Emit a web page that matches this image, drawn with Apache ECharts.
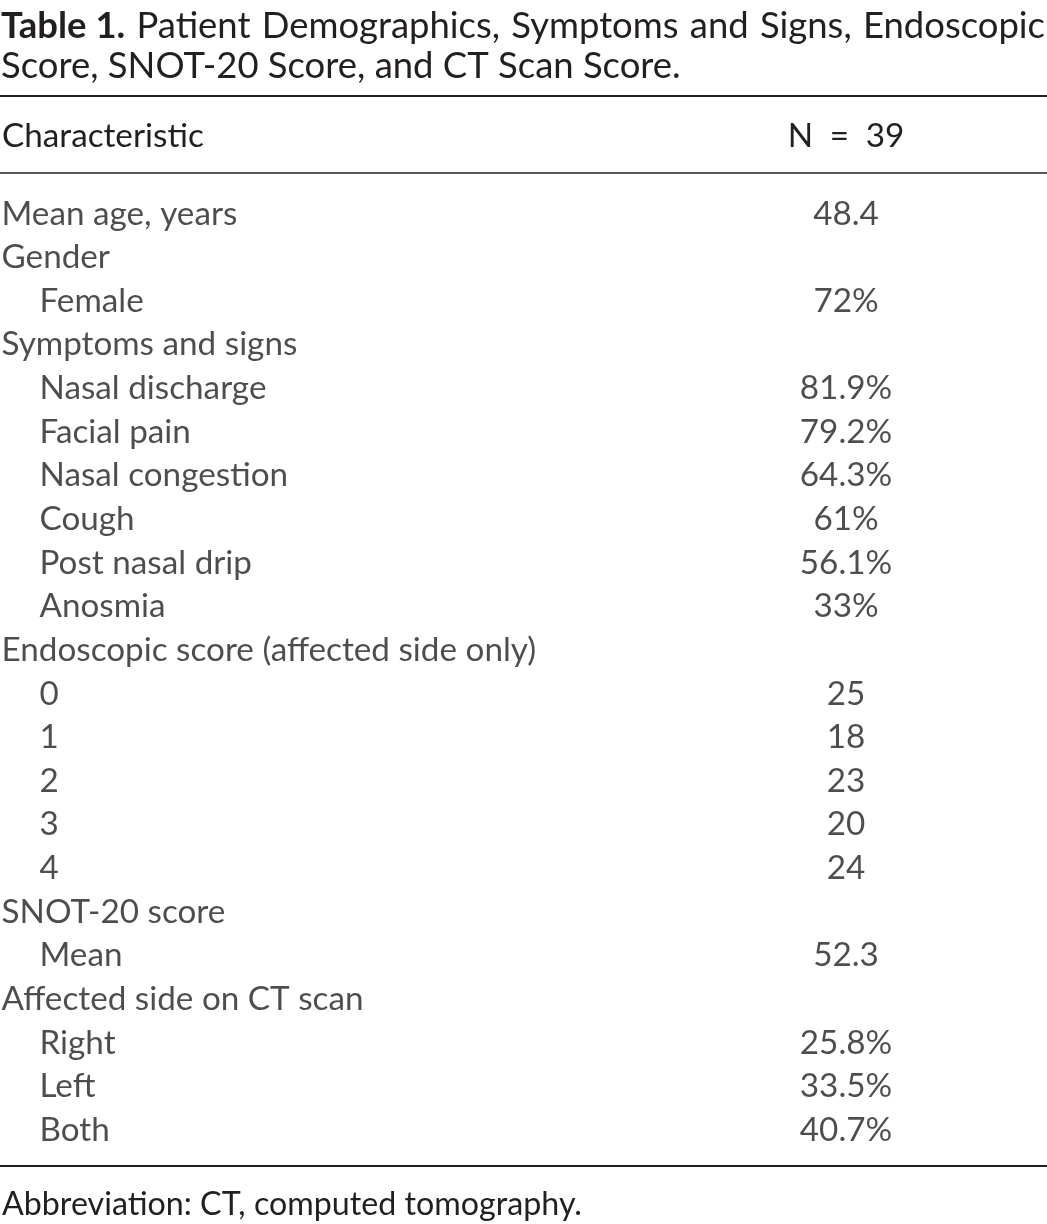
<!DOCTYPE html>
<html><head><meta charset="utf-8">
<script src="https://cdn.jsdelivr.net/npm/echarts/dist/echarts.min.js"></script>
<style>html,body{margin:0;padding:0;background:#fff}#c{width:1047px;height:1224px}</style>
</head><body><div id="c"></div>
<script>
// ---- data ----
const titleBold = 'Table 1.';
const titleLine1 = ['Patient', 'Demographics,', 'Symptoms', 'and', 'Signs,', 'Endoscopic'];
const titleLine2 = 'Score, SNOT-20 Score, and CT Scan Score.';
const headers = ['Characteristic', 'N = 39'];
const rowLabels = [
  'Mean age, years', 'Gender', 'Female', 'Symptoms and signs', 'Nasal discharge',
  'Facial pain', 'Nasal congestion', 'Cough', 'Post nasal drip', 'Anosmia',
  'Endoscopic score (affected side only)', '0', '1', '2', '3', '4',
  'SNOT-20 score', 'Mean', 'Affected side on CT scan', 'Right', 'Left', 'Both'
];
const rowLevels = [0, 0, 1, 0, 1, 1, 1, 1, 1, 1, 0, 1, 1, 1, 1, 1, 0, 1, 0, 1, 1, 1];
const rowValues = [
  '48.4', '', '72%', '', '81.9%', '79.2%', '64.3%', '61%', '56.1%', '33%',
  '', '25', '18', '23', '20', '24', '', '52.3', '', '25.8%', '33.5%', '40.7%'
];
const footnote = 'Abbreviation: CT, computed tomography.';

// ---- style ----
const FONT = 'Lato';
const INK = '#231f20';
const W = 1047;
const cv = document.createElement('canvas').getContext('2d');
function measure(text, size, weight) {
  cv.font = (weight || 'normal') + ' ' + size + 'px ' + FONT;
  return cv.measureText(text).width;
}
function fit(text, target, weight) {
  return 28 * target / measure(text, 28, weight);
}
const bodySize = fit('Symptoms and signs', 296);
const titleSize = fit(titleLine2, 680);
const footSize = fit(footnote, 580);

// justified first title line
const words = [{t: titleBold, w: 'bold'}].concat(titleLine1.map(t => ({t: t, w: 'normal'})));
const widths = words.map(o => measure(o.t, titleSize, o.w));
const gap = (W - 2 - 1 - widths.reduce((a, b) => a + b, 0)) / (words.length - 1);
const graphics = [];
let x = 1;
words.forEach((o, i) => {
  graphics.push({type: 'text', x: x, y: 26, silent: true,
    style: {text: o.t, font: o.w + ' ' + titleSize + 'px ' + FONT, fill: INK, textVerticalAlign: 'middle'}});
  x += widths[i] + gap;
});
graphics.push({type: 'text', x: 1, y: 66, silent: true,
  style: {text: titleLine2, font: 'normal ' + titleSize + 'px ' + FONT, fill: INK, textVerticalAlign: 'middle'}});
[[96, 2], [173, 1.6], [1166, 2]].forEach(r => graphics.push({type: 'line', silent: true,
  shape: {x1: 0, y1: r[0], x2: W, y2: r[0]}, style: {stroke: INK, lineWidth: r[1]}}));
graphics.push({type: 'text', x: 2, y: 136, silent: true,
  style: {text: headers[0], font: 'normal ' + bodySize + 'px ' + FONT, fill: INK, textVerticalAlign: 'middle'}});
graphics.push({type: 'text', x: 846, y: 136, silent: true,
  style: {text: headers[1].replace(/ /g, '\u2002'), font: 'normal ' + bodySize + 'px ' + FONT, fill: INK, textAlign: 'center', textVerticalAlign: 'middle'}});
graphics.push({type: 'text', x: 2, y: 1205, silent: true,
  style: {text: footnote, font: 'normal ' + footSize + 'px ' + FONT, fill: INK, textVerticalAlign: 'middle'}});

const labelBase = {show: true, color: INK, fontFamily: FONT, fontSize: bodySize};
const chart = echarts.init(document.getElementById('c'), null, {renderer: 'canvas'});
chart.setOption({
  animation: false,
  backgroundColor: '#fff',
  grid: {left: 0, right: 0, top: 192, height: 960},
  xAxis: {type: 'value', min: 0, max: W, show: false},
  yAxis: {type: 'category', data: rowLabels, inverse: true, show: false},
  graphic: graphics,
  series: [
    {
      type: 'scatter', silent: true, symbolSize: 1, itemStyle: {color: 'transparent'},
      label: Object.assign({}, labelBase, {position: 'right', distance: 0, formatter: p => rowLabels[p.dataIndex]}),
      data: rowLabels.map((l, i) => ({value: [1, i], label: {offset: [rowLevels[i] * 38, 0]}}))
    },
    {
      type: 'scatter', silent: true, symbolSize: 1, itemStyle: {color: 'transparent'},
      label: Object.assign({}, labelBase, {position: 'inside', formatter: p => rowValues[p.dataIndex]}),
      data: rowValues.map((v, i) => [846, i])
    }
  ]
});
</script></body></html>
